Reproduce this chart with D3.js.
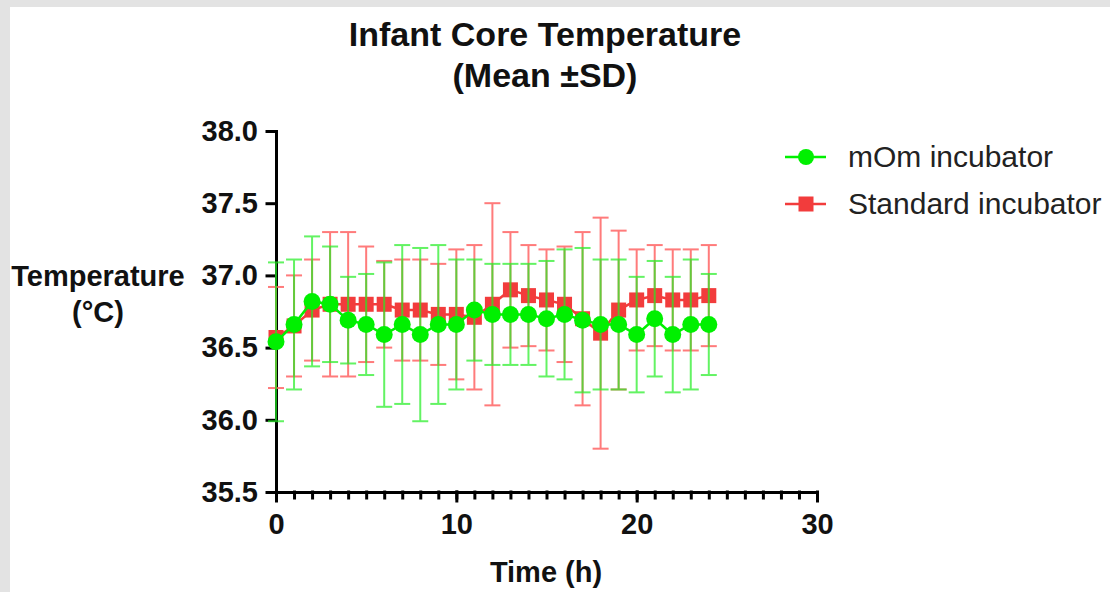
<!DOCTYPE html>
<html>
<head>
<meta charset="utf-8">
<script src="https://cdn.jsdelivr.net/npm/d3@7"></script>
<style>
  html, body { margin: 0; padding: 0; background: #e3e3e3; }
  text { font-family: "Liberation Sans", Arial, sans-serif; }
</style>
</head>
<body>
<div id="chart"></div>
<script>
// data
var hours = [0, 1, 2, 3, 4, 5, 6, 7, 8, 9, 10, 11, 12, 13, 14, 15, 16, 17, 18, 19, 20, 21, 22, 23, 24];
var momMean = [36.54, 36.66, 36.82, 36.80, 36.69, 36.66, 36.59, 36.66, 36.59, 36.66, 36.66, 36.76, 36.73,
  36.73, 36.73, 36.70, 36.73, 36.69, 36.66, 36.66, 36.59, 36.70, 36.59, 36.66, 36.66];
var momSD = [0.55, 0.45, 0.45, 0.40, 0.30, 0.35, 0.50, 0.55, 0.60, 0.55, 0.45, 0.35, 0.35,
  0.35, 0.35, 0.40, 0.45, 0.50, 0.45, 0.45, 0.40, 0.40, 0.40, 0.45, 0.35];
var stdMean = [36.57, 36.65, 36.76, 36.80, 36.80, 36.80, 36.80, 36.76, 36.76, 36.73, 36.73, 36.71, 36.80,
  36.90, 36.86, 36.83, 36.80, 36.70, 36.60, 36.76, 36.83, 36.86, 36.83, 36.83, 36.86];
var stdSD = [0.35, 0.35, 0.35, 0.50, 0.50, 0.40, 0.30, 0.35, 0.35, 0.35, 0.45, 0.50, 0.70,
  0.40, 0.35, 0.35, 0.40, 0.60, 0.80, 0.55, 0.35, 0.35, 0.35, 0.35, 0.35];
var seriesNames = ["mOm incubator", "Standard incubator"];
var yTicks = [35.5, 36.0, 36.5, 37.0, 37.5, 38.0];
var xTicks = [0, 10, 20, 30];

var W = 1110, H = 592;
var margin = {top: 131, left: 276, right: 293, bottom: 100};

var green = "#00f000", red = "#f23c3c";

var svg = d3.select("#chart").append("svg")
  .attr("width", W)
  .attr("height", H)
  .style("display", "block");

// white panel over the grey frame
svg.append("rect")
  .attr("x", 10).attr("y", 7)
  .attr("width", W - 10).attr("height", H - 7)
  .attr("fill", "#fff");

var x = d3.scaleLinear().domain([0, 30]).range([margin.left, W - margin.right]);
var y = d3.scaleLinear().domain([35.5, 38.0]).range([H - margin.bottom, margin.top]);

// axes
svg.append("g")
  .attr("transform", "translate(0," + y(35.5) + ")")
  .call(d3.axisBottom(x).tickValues(xTicks).tickFormat(d3.format("d"))
    .tickSize(9).tickSizeOuter(0).tickPadding(12));

// minor hourly ticks
svg.append("g")
  .attr("transform", "translate(0," + y(35.5) + ")")
  .call(d3.axisBottom(x).tickValues(d3.range(1, 30)).tickFormat("")
    .tickSize(6).tickSizeOuter(0))
  .call(function (g) { g.select(".domain").remove(); });

svg.append("g")
  .attr("transform", "translate(" + x(0) + ",0)")
  .call(d3.axisLeft(y).tickValues(yTicks).tickFormat(d3.format(".1f"))
    .tickSize(9).tickSizeOuter(0).tickPadding(9));

svg.selectAll(".domain, .tick line")
  .attr("stroke", "#000")
  .attr("stroke-width", 3)
  .attr("stroke-linecap", "square");

svg.selectAll(".tick text")
  .attr("fill", "#111")
  .style("font-size", "29px")
  .style("font-weight", "bold")
  .style("font-family", "'Liberation Sans', Arial, sans-serif");

// titles
var title = svg.append("text")
  .attr("text-anchor", "middle")
  .style("font-size", "34px")
  .style("font-weight", "bold")
  .attr("fill", "#111");
title.append("tspan").attr("x", 545).attr("y", 46).text("Infant Core Temperature");
title.append("tspan").attr("x", 545).attr("y", 87).text("(Mean \u00B1SD)");

var ylab = svg.append("text")
  .attr("text-anchor", "middle")
  .style("font-size", "29px")
  .style("font-weight", "bold")
  .attr("fill", "#111");
ylab.append("tspan").attr("x", 98).attr("y", 286).text("Temperature");
ylab.append("tspan").attr("x", 98).attr("y", 322).text("(\u00B0C)");

svg.append("text")
  .attr("x", 546)
  .attr("y", 582)
  .attr("text-anchor", "middle")
  .style("font-size", "29px")
  .style("font-weight", "bold")
  .attr("fill", "#111")
  .text("Time (h)");

// build rows for each series
function rows(mean, sd) {
  return hours.map(function (h, i) {
    return {h: h, m: mean[i], sd: sd[i]};
  });
}
var momData = rows(momMean, momSD);
var stdData = rows(stdMean, stdSD);

var line = d3.line()
  .x(function (d) { return x(d.h); })
  .y(function (d) { return y(d.m); });

function errorBars(data, color, opacity) {
  var g = svg.append("g")
    .attr("stroke", color)
    .attr("stroke-width", 2)
    .attr("opacity", opacity);
  g.selectAll(".v").data(data).enter().append("line")
    .attr("x1", function (d) { return x(d.h); })
    .attr("x2", function (d) { return x(d.h); })
    .attr("y1", function (d) { return y(d.m + d.sd); })
    .attr("y2", function (d) { return y(d.m - d.sd); });
  [1, -1].forEach(function (s) {
    g.selectAll(".c" + s).data(data).enter().append("line")
      .attr("x1", function (d) { return x(d.h) - 8; })
      .attr("x2", function (d) { return x(d.h) + 8; })
      .attr("y1", function (d) { return y(d.m + s * d.sd); })
      .attr("y2", function (d) { return y(d.m + s * d.sd); });
  });
}

// standard incubator (drawn underneath)
errorBars(stdData, "#ff6464", 0.85);
svg.append("path")
  .datum(stdData)
  .attr("fill", "none")
  .attr("stroke", red)
  .attr("stroke-width", 2.5)
  .attr("d", line);
svg.append("g").selectAll("rect")
  .data(stdData)
  .enter().append("rect")
  .attr("x", function (d) { return x(d.h) - 7.5; })
  .attr("y", function (d) { return y(d.m) - 7.5; })
  .attr("width", 15)
  .attr("height", 15)
  .attr("fill", red);

// mOm incubator
errorBars(momData, "#22ee22", 0.7);
svg.append("path")
  .datum(momData)
  .attr("fill", "none")
  .attr("stroke", green)
  .attr("stroke-width", 2.5)
  .attr("d", line);
svg.append("g").selectAll("circle")
  .data(momData)
  .enter().append("circle")
  .attr("cx", function (d) { return x(d.h); })
  .attr("cy", function (d) { return y(d.m); })
  .attr("r", 8.5)
  .attr("fill", green);

// legend
var legend = svg.append("g").attr("transform", "translate(785,157)");
var items = legend.selectAll("g")
  .data(seriesNames)
  .enter().append("g")
  .attr("transform", function (d, i) { return "translate(0," + i * 47 + ")"; });
items.append("line")
  .attr("x1", 0).attr("x2", 41)
  .attr("stroke", function (d, i) { return i === 0 ? green : red; })
  .attr("stroke-width", 2.5);
items.filter(function (d, i) { return i === 0; })
  .append("circle")
  .attr("cx", 21).attr("r", 8).attr("fill", green);
items.filter(function (d, i) { return i === 1; })
  .append("rect")
  .attr("x", 13.5).attr("y", -7.5).attr("width", 15).attr("height", 15).attr("fill", red);
items.append("text")
  .attr("x", 63)
  .attr("y", 10)
  .style("font-size", "30px")
  .attr("fill", "#222")
  .text(function (d) { return d; });
</script>
</body>
</html>
